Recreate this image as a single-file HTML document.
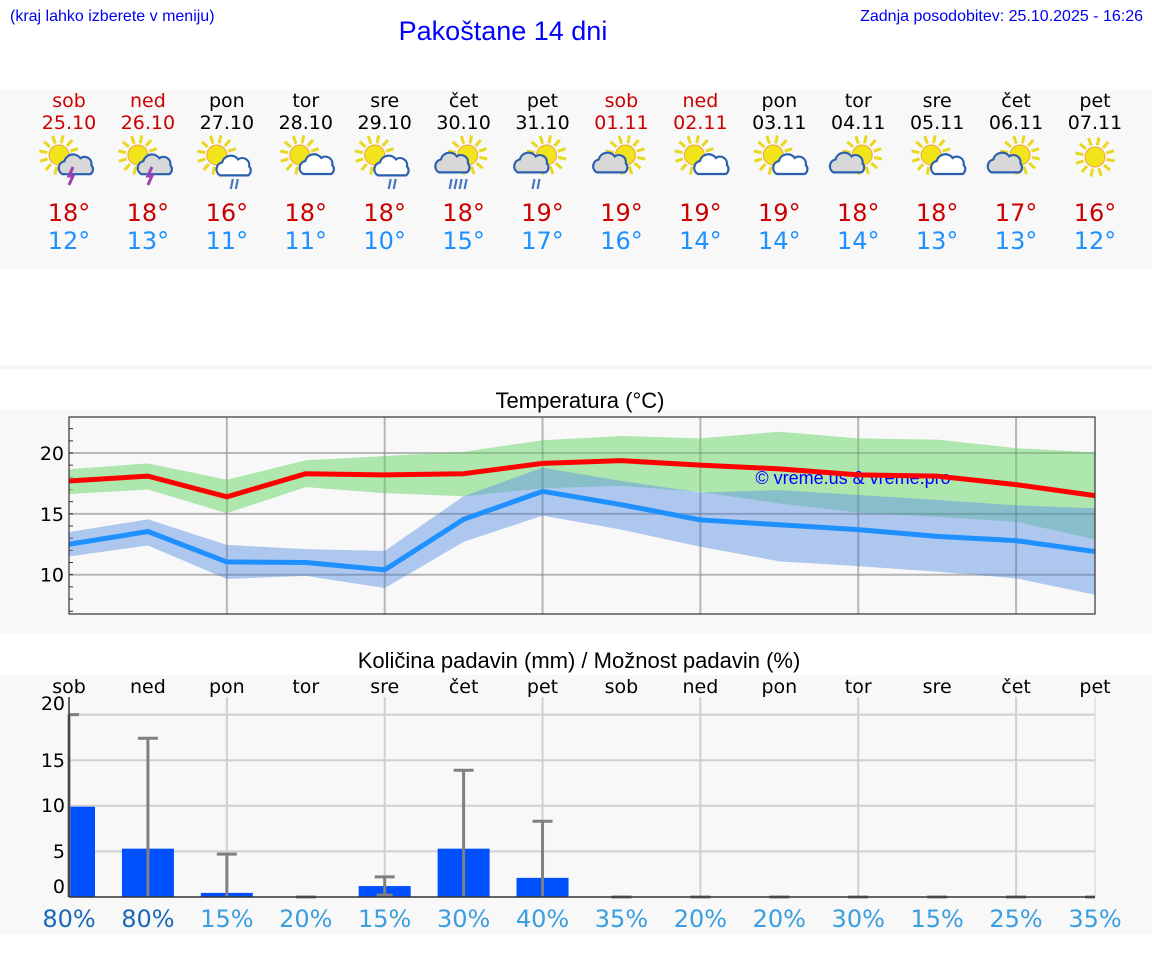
<!DOCTYPE html>
<html><head><meta charset="utf-8">
<style>
html,body{margin:0;padding:0;background:#fff;width:1152px;height:975px;overflow:hidden}
svg{display:block}
text{font-family:"DejaVu Sans","Liberation Sans",sans-serif}
.ls{font-family:"Liberation Sans",sans-serif}
</style></head>
<body>
<svg id="root" width="1152" height="975" viewBox="0 0 1152 975" xmlns="http://www.w3.org/2000/svg">
  <rect x="0" y="90" width="1152" height="179" fill="#f8f8f8"/>
  <rect x="0" y="365" width="1152" height="4" fill="#f6f6f6"/>
  <rect x="0" y="410" width="1152" height="224" fill="#f8f8f8"/>
  <rect x="0" y="675" width="1152" height="260" fill="#f8f8f8"/>
  <text class="ls" x="10" y="21" font-size="16" fill="#0000ee">(kraj lahko izberete v meniju)</text>
  <text class="ls" x="503" y="40" font-size="27" fill="#0000ff" text-anchor="middle">Pakoštane 14 dni</text>
  <text class="ls" x="1143" y="21" font-size="16" fill="#0000ee" text-anchor="end">Zadnja posodobitev: 25.10.2025 - 16:26</text>
  <g id="header"></g>
  <text class="ls" x="580" y="408" font-size="22" fill="#000" text-anchor="middle">Temperatura (°C)</text>
  <g id="tchart"></g>
  <text class="ls" x="579" y="668" font-size="22" fill="#000" text-anchor="middle">Količina padavin (mm) / Možnost padavin (%)</text>
  <g id="pchart"></g>
</svg>
<script>
const days=["sob","ned","pon","tor","sre","čet","pet","sob","ned","pon","tor","sre","čet","pet"];
const dates=["25.10","26.10","27.10","28.10","29.10","30.10","31.10","01.11","02.11","03.11","04.11","05.11","06.11","07.11"];
const weekend=[1,1,0,0,0,0,0,1,1,0,0,0,0,0];
const iconTypes=["storm","storm","rain","partly","rain","heavyrain","cloudrain","cloudy","partly","partly","cloudy","partly","cloudy","sun"];
const maxLabels=[18,18,16,18,18,18,19,19,19,19,18,18,17,16];
const minLabels=[12,13,11,11,10,15,17,16,14,14,14,13,13,12];
const maxT=[17.7,18.1,16.4,18.3,18.2,18.3,19.15,19.37,19.0,18.7,18.2,18.1,17.4,16.5];
const maxHi=[18.66,19.15,17.8,19.4,19.75,20.1,21.05,21.4,21.2,21.75,21.2,21.1,20.4,20.05];
const maxLo=[16.63,17.0,15.05,17.2,16.7,16.45,17.1,17.3,16.8,15.85,15.1,14.75,14.35,12.9];
const minT=[12.5,13.55,11.05,11.0,10.4,14.55,16.85,15.75,14.5,14.1,13.7,13.15,12.8,11.9];
const minHi=[13.5,14.55,12.45,12.1,11.95,16.45,18.8,17.7,16.75,16.95,16.55,16.15,15.7,15.45];
const minLo=[11.5,12.4,9.65,9.9,8.9,12.7,14.85,13.7,12.3,11.1,10.7,10.25,9.7,8.35];
const tTicks=[10,15,20];
const precip=[9.9,5.3,0.45,0,1.2,5.3,2.1,0,0,0,0,0,0,0];
const precipMax=[20,17.4,4.7,0,2.2,13.9,8.3,0,0,0,0,0,0,0];
const precipMin=[0,0,0,0,0.2,0,0,0,0,0,0,0,0,0];
const chance=[80,80,15,20,15,30,40,35,20,20,30,15,25,35];
const pTicks=[0,5,10,15,20];

const NS="http://www.w3.org/2000/svg";
function mk(parent,tag,attrs){const e=document.createElementNS(NS,tag);for(const k in attrs)e.setAttribute(k,attrs[k]);parent.appendChild(e);return e;}
function txt(parent,x,y,s,size,fill,anchor){const t=mk(parent,"text",{x:x,y:y,"font-size":size,fill:fill,"text-anchor":anchor||"middle"});t.textContent=s;return t;}
const X0=69,X1=1095;
function xc(i){return X0+(X1-X0)*i/13;}

const H=document.getElementById("header");
function sun(g,cx,cy,r){
  for(let k=0;k<12;k++){const a=k*Math.PI/6+0.2;mk(g,"line",{x1:cx+Math.cos(a)*(r+2),y1:cy+Math.sin(a)*(r+2),x2:cx+Math.cos(a)*(r+10),y2:cy+Math.sin(a)*(r+10),stroke:"#e8d820","stroke-width":3});}
  mk(g,"circle",{cx:cx,cy:cy,r:r,fill:"#f2e41a",stroke:"#f0a040","stroke-width":1});
}
function cloud(g,cx,cy,s,fill){
  mk(g,"path",{d:`M${cx-14*s},${cy+8*s} a7 7 0 0 1 2,-13 a9 9 0 0 1 16,-3 a7 7 0 0 1 11,7 a6 6 0 0 1 -1,9 z`,fill:fill,stroke:"#2a5fb0","stroke-width":2.2});
}
function rain(g,cx,cy,n){for(let k=0;k<n;k++){mk(g,"line",{x1:cx+k*5+2,y1:cy,x2:cx+k*5,y2:cy+10,stroke:"#4a78c0","stroke-width":2.2});}}
for(let i=0;i<14;i++){
  const x=xc(i);const col=weekend[i]?"#cc0000":"#000";
  const dn=txt(H,x,107,days[i],19,col);
  
  
  const dt=txt(H,x,129,dates[i],19,col);
  
  
  const g=mk(H,"g",{});
  
  
  const t=iconTypes[i];
  if(t==="sun"){sun(g,x,157,10);}
  else if(t==="cloudy"){sun(g,x+4,155,10);cloud(g,x-10,164,1.05,"#d8d8d8");}
  else if(t==="cloudrain"){sun(g,x+4,155,10);cloud(g,x-10,164,1.05,"#d8d8d8");rain(g,x-10,179,2);}
  else if(t==="heavyrain"){sun(g,x+4,155,10);cloud(g,x-10,164,1.05,"#d8d8d8");rain(g,x-14,179,4);}
  else if(t==="partly"){sun(g,x-6,155,10);cloud(g,x+8,168,0.75,"#fff");}
  else if(t==="rain"){sun(g,x-10,155,10);cloud(g,x+8,167,1.05,"#fff");rain(g,x+4,179,2);}
  else if(t==="storm"){sun(g,x-10,155,10);cloud(g,x+6,167,0.9,"#d8d8d8");mk(g,"path",{d:`M${x+4},${167} l-4,9 h4 l-4,9`,fill:"none",stroke:"#a040b0","stroke-width":3});}
  const mx=txt(H,x,221,maxLabels[i]+"°",24,"#cc0000");
  
  
  const mn=txt(H,x,249,minLabels[i]+"°",24,"#1e90ff");
  
  
}

const T=document.getElementById("tchart");
const TY0=417,TY1=614;
function ty(v){return 453+(20-v)*12.17;}
mk(T,"rect",{x:X0,y:TY0,width:X1-X0,height:TY1-TY0,fill:"#f8f8f8"});
for(const v of tTicks){const l=mk(T,"line",{x1:X0,x2:X1,y1:ty(v),y2:ty(v),stroke:"#d0d0d0","stroke-width":2});
  
  
  const lb=txt(T,X0-5,ty(v)+7,String(v),19,"#000","end");
  
  }
for(let v=7;v<=22;v++){mk(T,"line",{x1:X0,x2:X0+4,y1:ty(v),y2:ty(v),stroke:"#333","stroke-width":1});}
for(let i=2;i<14;i+=2){mk(T,"line",{x1:xc(i),x2:xc(i),y1:TY0,y2:TY1,stroke:"#d0d0d0","stroke-width":2});}
function band(hi,lo,fill,name){let d="M"+hi.map((v,i)=>xc(i)+","+ty(v)).join(" L");d+=" L"+lo.map((v,i)=>xc(i)+","+ty(v)).reverse().join(" L")+" Z";
  const p=mk(T,"path",{d:d,fill:fill});
  
  }
band(maxHi,maxLo,"rgba(144,224,144,0.72)","max-temp-band");
band(minHi,minLo,"rgba(100,150,230,0.5)","min-temp-band");
for(const v of tTicks){mk(T,"line",{x1:X0,x2:X1,y1:ty(v),y2:ty(v),stroke:"rgba(0,0,0,0.12)","stroke-width":2});}
for(let i=2;i<14;i+=2){mk(T,"line",{x1:xc(i),x2:xc(i),y1:TY0,y2:TY1,stroke:"rgba(0,0,0,0.12)","stroke-width":2});}
const wm=mk(T,"text",{x:853,y:484,"font-size":18,fill:"#0000ff","text-anchor":"middle",class:"ls"});wm.textContent="© vreme.us & vreme.pro";


function line(vals,col,name){const p=mk(T,"polyline",{points:vals.map((v,i)=>xc(i)+","+ty(v)).join(" "),fill:"none",stroke:col,"stroke-width":5,"stroke-linejoin":"round"});
  
  }
line(minT,"#1e90ff","min-temp-line");
line(maxT,"#ff0000","max-temp-line");
mk(T,"rect",{x:X0,y:TY0,width:X1-X0,height:TY1-TY0,fill:"none",stroke:"#333","stroke-width":1.2});

const P=document.getElementById("pchart");
const PY0=697,PYB=897;
function py(v){return PYB-v*9.12;}
mk(P,"rect",{x:X0,y:PY0,width:X1-X0,height:PYB-PY0,fill:"#f8f8f8"});
const pLabelY=[886,851,805,760,703];
pTicks.forEach((v,k)=>{if(v>0){const l=mk(P,"line",{x1:X0,x2:X1,y1:py(v),y2:py(v),stroke:"#d0d0d0","stroke-width":2});
  
  }
  const lb=txt(P,X0-4,pLabelY[k]+7,String(v),19,"#000","end");
  
  });
for(let i=2;i<14;i+=2){mk(P,"line",{x1:xc(i),x2:xc(i),y1:PY0,y2:PYB,stroke:"#d0d0d0","stroke-width":2});}
mk(P,"line",{x1:X1,x2:X1,y1:PY0,y2:PYB,stroke:"#d0d0d0","stroke-width":1});
for(let i=0;i<14;i++){
  const x=xc(i);
  const dl=txt(P,x,693,days[i],19,"#000");
  
  
  if(precip[i]>0){const x0=Math.max(X0,x-26),x1=Math.min(X1,x+26);
    const b=mk(P,"rect",{x:x0,y:py(precip[i]),width:x1-x0,height:PYB-py(precip[i]),fill:"#0050ff"});
    
    }
  const eg=mk(P,"g",{});
  
  
  mk(eg,"line",{x1:x,x2:x,y1:py(precipMax[i]),y2:py(precipMin[i]),stroke:"#808080","stroke-width":3});
  mk(eg,"line",{x1:Math.max(X0,x-10),x2:Math.min(X1,x+10),y1:py(precipMax[i]),y2:py(precipMax[i]),stroke:"#808080","stroke-width":3});
  if(precipMin[i]>0)mk(eg,"line",{x1:x-8,x2:x+8,y1:py(precipMin[i]),y2:py(precipMin[i]),stroke:"#808080","stroke-width":3});
  const cl=txt(P,x,927,chance[i]+"%",24,chance[i]>=60?"#1a68b8":"#3a9ee0");
  
  
}
mk(P,"line",{x1:X0,x2:X1,y1:PYB,y2:PYB,stroke:"#333","stroke-width":1.5});
mk(P,"line",{x1:X0,x2:X0,y1:PY0,y2:PYB,stroke:"#333","stroke-width":1.5});
</script>
</body></html>
